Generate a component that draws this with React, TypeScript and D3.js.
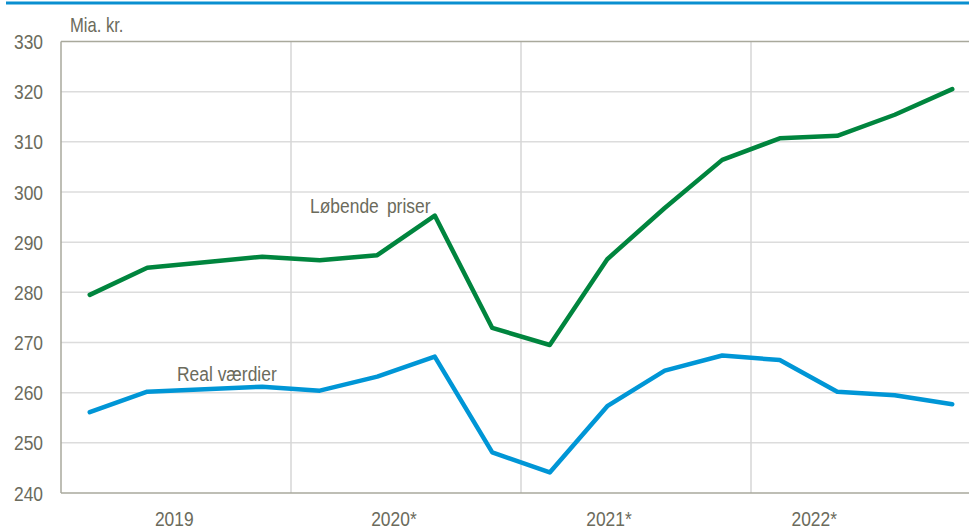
import React from "react";
import * as d3 from "d3";

const quarters = [
  "2019K1", "2019K2", "2019K3", "2019K4",
  "2020K1", "2020K2", "2020K3", "2020K4",
  "2021K1", "2021K2", "2021K3", "2021K4",
  "2022K1", "2022K2", "2022K3", "2022K4",
];
const years = ["2019", "2020*", "2021*", "2022*"];
// position of each year label, in quarter units from the start of the axis
const yearLabelAt = [1.97, 5.79, 9.53, 13.1];
const loebendePriser = [279.5, 284.9, 286.0, 287.1, 286.4, 287.4, 295.3, 272.9, 269.5, 286.6, 296.8, 306.4, 310.7, 311.2, 315.4, 320.5];
const realVaerdier = [256.1, 260.2, 260.7, 261.2, 260.4, 263.2, 267.2, 248.1, 244.1, 257.3, 264.4, 267.4, 266.5, 260.2, 259.5, 257.7];
const yTicks = [240, 250, 260, 270, 280, 290, 300, 310, 320, 330];

const W = 969;
const H = 527;
const left = 61;
const right = 981;
const top = 41.5;
const bottom = 493;

const FONT = "'Liberation Sans', Arial, sans-serif";
const SX = 0.83;
const TEXT = "#6b6b5c";
const GREEN = "#00853e";
const BLUE = "#0096d6";

function T(props: { x: number; y: number; anchor?: string; size?: number; children: React.ReactNode; ws?: number }) {
  return (
    <text
      transform={`translate(${props.x},${props.y}) scale(${SX},1)`}
      textAnchor={props.anchor || "start"}
      fontSize={props.size || 21}
      fill={TEXT}
      wordSpacing={props.ws}
    >
      {props.children}
    </text>
  );
}

export default function App() {
  const x = d3.scaleBand<string>().domain(quarters).range([left, right]);
  const xYear = d3.scaleBand<string>().domain(years).range([left, right]);
  const xq = d3.scaleLinear().domain([0, quarters.length]).range([left, right]);
  const y = d3.scaleLinear().domain([240, 330]).range([bottom, top]);
  const cx = (q: string) => (x(q) as number) + x.bandwidth() / 2;

  const line = d3
    .line<number>()
    .x((_, i) => cx(quarters[i]))
    .y((d) => y(d));

  return (
    <svg
      width={W}
      height={H}
      style={{ position: "absolute", left: 0, top: 0, background: "#fff" }}
      fontFamily={FONT}
    >
      <line x1={6} x2={W} y1={3} y2={3} stroke="#0a8fd0" strokeWidth={3} />
      {yTicks.slice(1, -1).map((t) => (
        <line key={t} x1={left} x2={W} y1={y(t)} y2={y(t)} stroke="#dcdcdc" strokeWidth={1.5} />
      ))}
      {years.slice(1).map((yr) => (
        <line
          key={yr}
          x1={xYear(yr) as number}
          x2={xYear(yr) as number}
          y1={top}
          y2={bottom}
          stroke="#d6d6d6"
          strokeWidth={1.5}
        />
      ))}
      <line x1={left} x2={W} y1={y(330)} y2={y(330)} stroke="#a9a99c" strokeWidth={1.5} />
      <line x1={left} x2={W} y1={y(240)} y2={y(240)} stroke="#a9a99c" strokeWidth={1.5} />
      <line x1={left} x2={left} y1={top} y2={bottom} stroke="#a9a99c" strokeWidth={1.5} />
      {yTicks.map((t) => (
        <T key={t} x={43} y={y(t) + 7.6} anchor="end">
          {t}
        </T>
      ))}
      {years.map((yr, i) => (
        <T key={yr} x={xq(yearLabelAt[i])} y={525.5} anchor="middle">
          {yr}
        </T>
      ))}
      <T x={70} y={31.5} size={20}>
        Mia. kr.
      </T>
      <path d={line(loebendePriser) as string} fill="none" stroke={GREEN} strokeWidth={4.5} strokeLinejoin="round" strokeLinecap="round" />
      <path d={line(realVaerdier) as string} fill="none" stroke={BLUE} strokeWidth={4.5} strokeLinejoin="round" strokeLinecap="round" />
      <T x={310} y={213} ws={4}>
        Løbende priser
      </T>
      <T x={177} y={381}>
        Real værdier
      </T>
    </svg>
  );
}
